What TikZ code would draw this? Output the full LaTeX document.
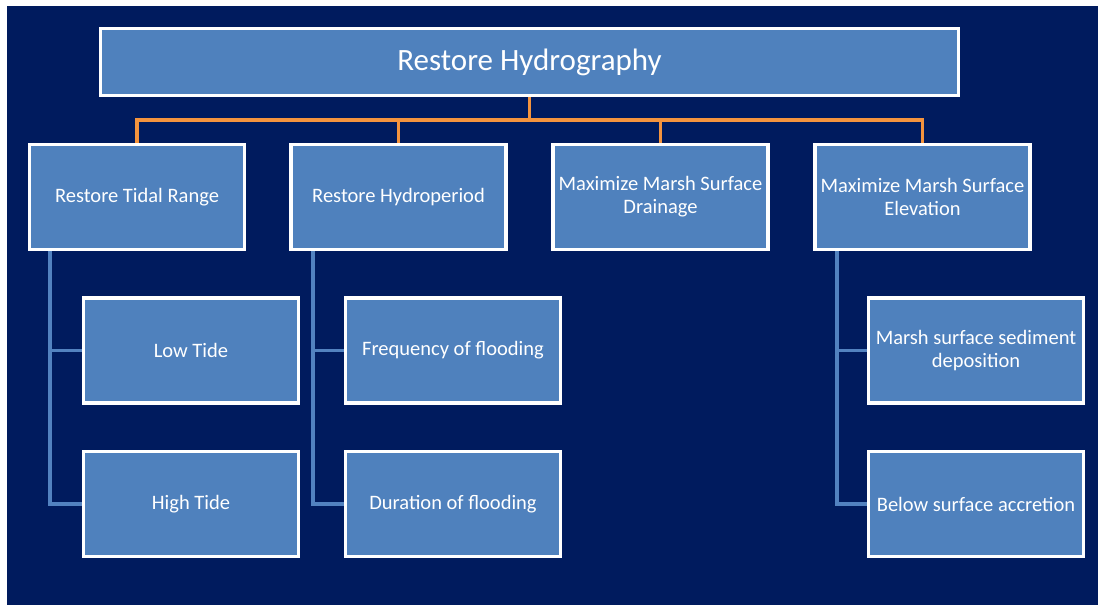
\documentclass[tikz,border=0pt]{standalone}
\usepackage{fontspec}
\setmainfont{Carlito}
\usetikzlibrary{backgrounds}

\definecolor{SlideBg}{RGB}{0,27,94}
\definecolor{BoxBlue}{RGB}{79,129,189}
\definecolor{LinkOrange}{RGB}{244,148,62}
\definecolor{LinkBlue}{RGB}{82,130,192}

\begin{document}
\begin{tikzpicture}[x=1pt, y=-1pt,
    box/.style={draw=white, line width=3.5pt, fill=BoxBlue, text=white, minimum width=215pt, minimum height=105pt, align=center, font=\fontsize{20.5}{23}\selectfont, inner sep=0pt},
    headbox/.style={box, minimum width=858pt, minimum height=67pt, font=\fontsize{31}{36}\selectfont},
    tier/.style={draw=LinkOrange, line width=3.5pt},
    branch/.style={draw=LinkBlue, line width=3.5pt}
  ]
    \useasboundingbox (0,0) rectangle (1098,605);

    % Top level
    \node[headbox] (hydro) at (529.5,62) {Restore Hydrography};

    % Second level
    \node[box] (tidal) at (137,197) {Restore Tidal Range};
    \node[box] (period) at (398.5,197) {Restore Hydroperiod};
    \node[box] (drain) at (660.5,197) {Maximize Marsh Surface\\Drainage};
    \node[box] (elev) at (922.5,197) {Maximize Marsh Surface\\Elevation};

    % Third level
    \node[box] (low) at (191,350.5) {Low Tide};
    \node[box] (high) at (191,504) {High Tide};
    \node[box] (freq) at (453,350.5) {Frequency of flooding};
    \node[box] (dur) at (453,504) {Duration of flooding};
    \node[box] (sediment) at (976,350.5) {Marsh surface sediment\\deposition};
    \node[box] (accretion) at (976,504) {Below surface accretion};

    \begin{scope}[on background layer]
      \fill[white] (0,0) rectangle (1098,605);
      \fill[SlideBg] (7,6) rectangle (1098,605);

      % Orange tree
      \coordinate (bus) at (529.5,120);
      \draw[tier] (hydro.south) -- (bus);
      \draw[tier] (bus) -| (tidal.north);
      \draw[tier] (bus) -| (period.north);
      \draw[tier] (bus) -| (drain.north);
      \draw[tier] (bus) -| (elev.north);

      % Blue branches
      \draw[branch] ([xshift=-87pt]tidal.south) |- (low.west);
      \draw[branch] ([xshift=-87pt]tidal.south) |- (high.west);
      \draw[branch] ([xshift=-85.5pt]period.south) |- (freq.west);
      \draw[branch] ([xshift=-85.5pt]period.south) |- (dur.west);
      \draw[branch] ([xshift=-85.5pt]elev.south) |- (sediment.west);
      \draw[branch] ([xshift=-85.5pt]elev.south) |- (accretion.west);
    \end{scope}
  \end{tikzpicture}
\end{document}
